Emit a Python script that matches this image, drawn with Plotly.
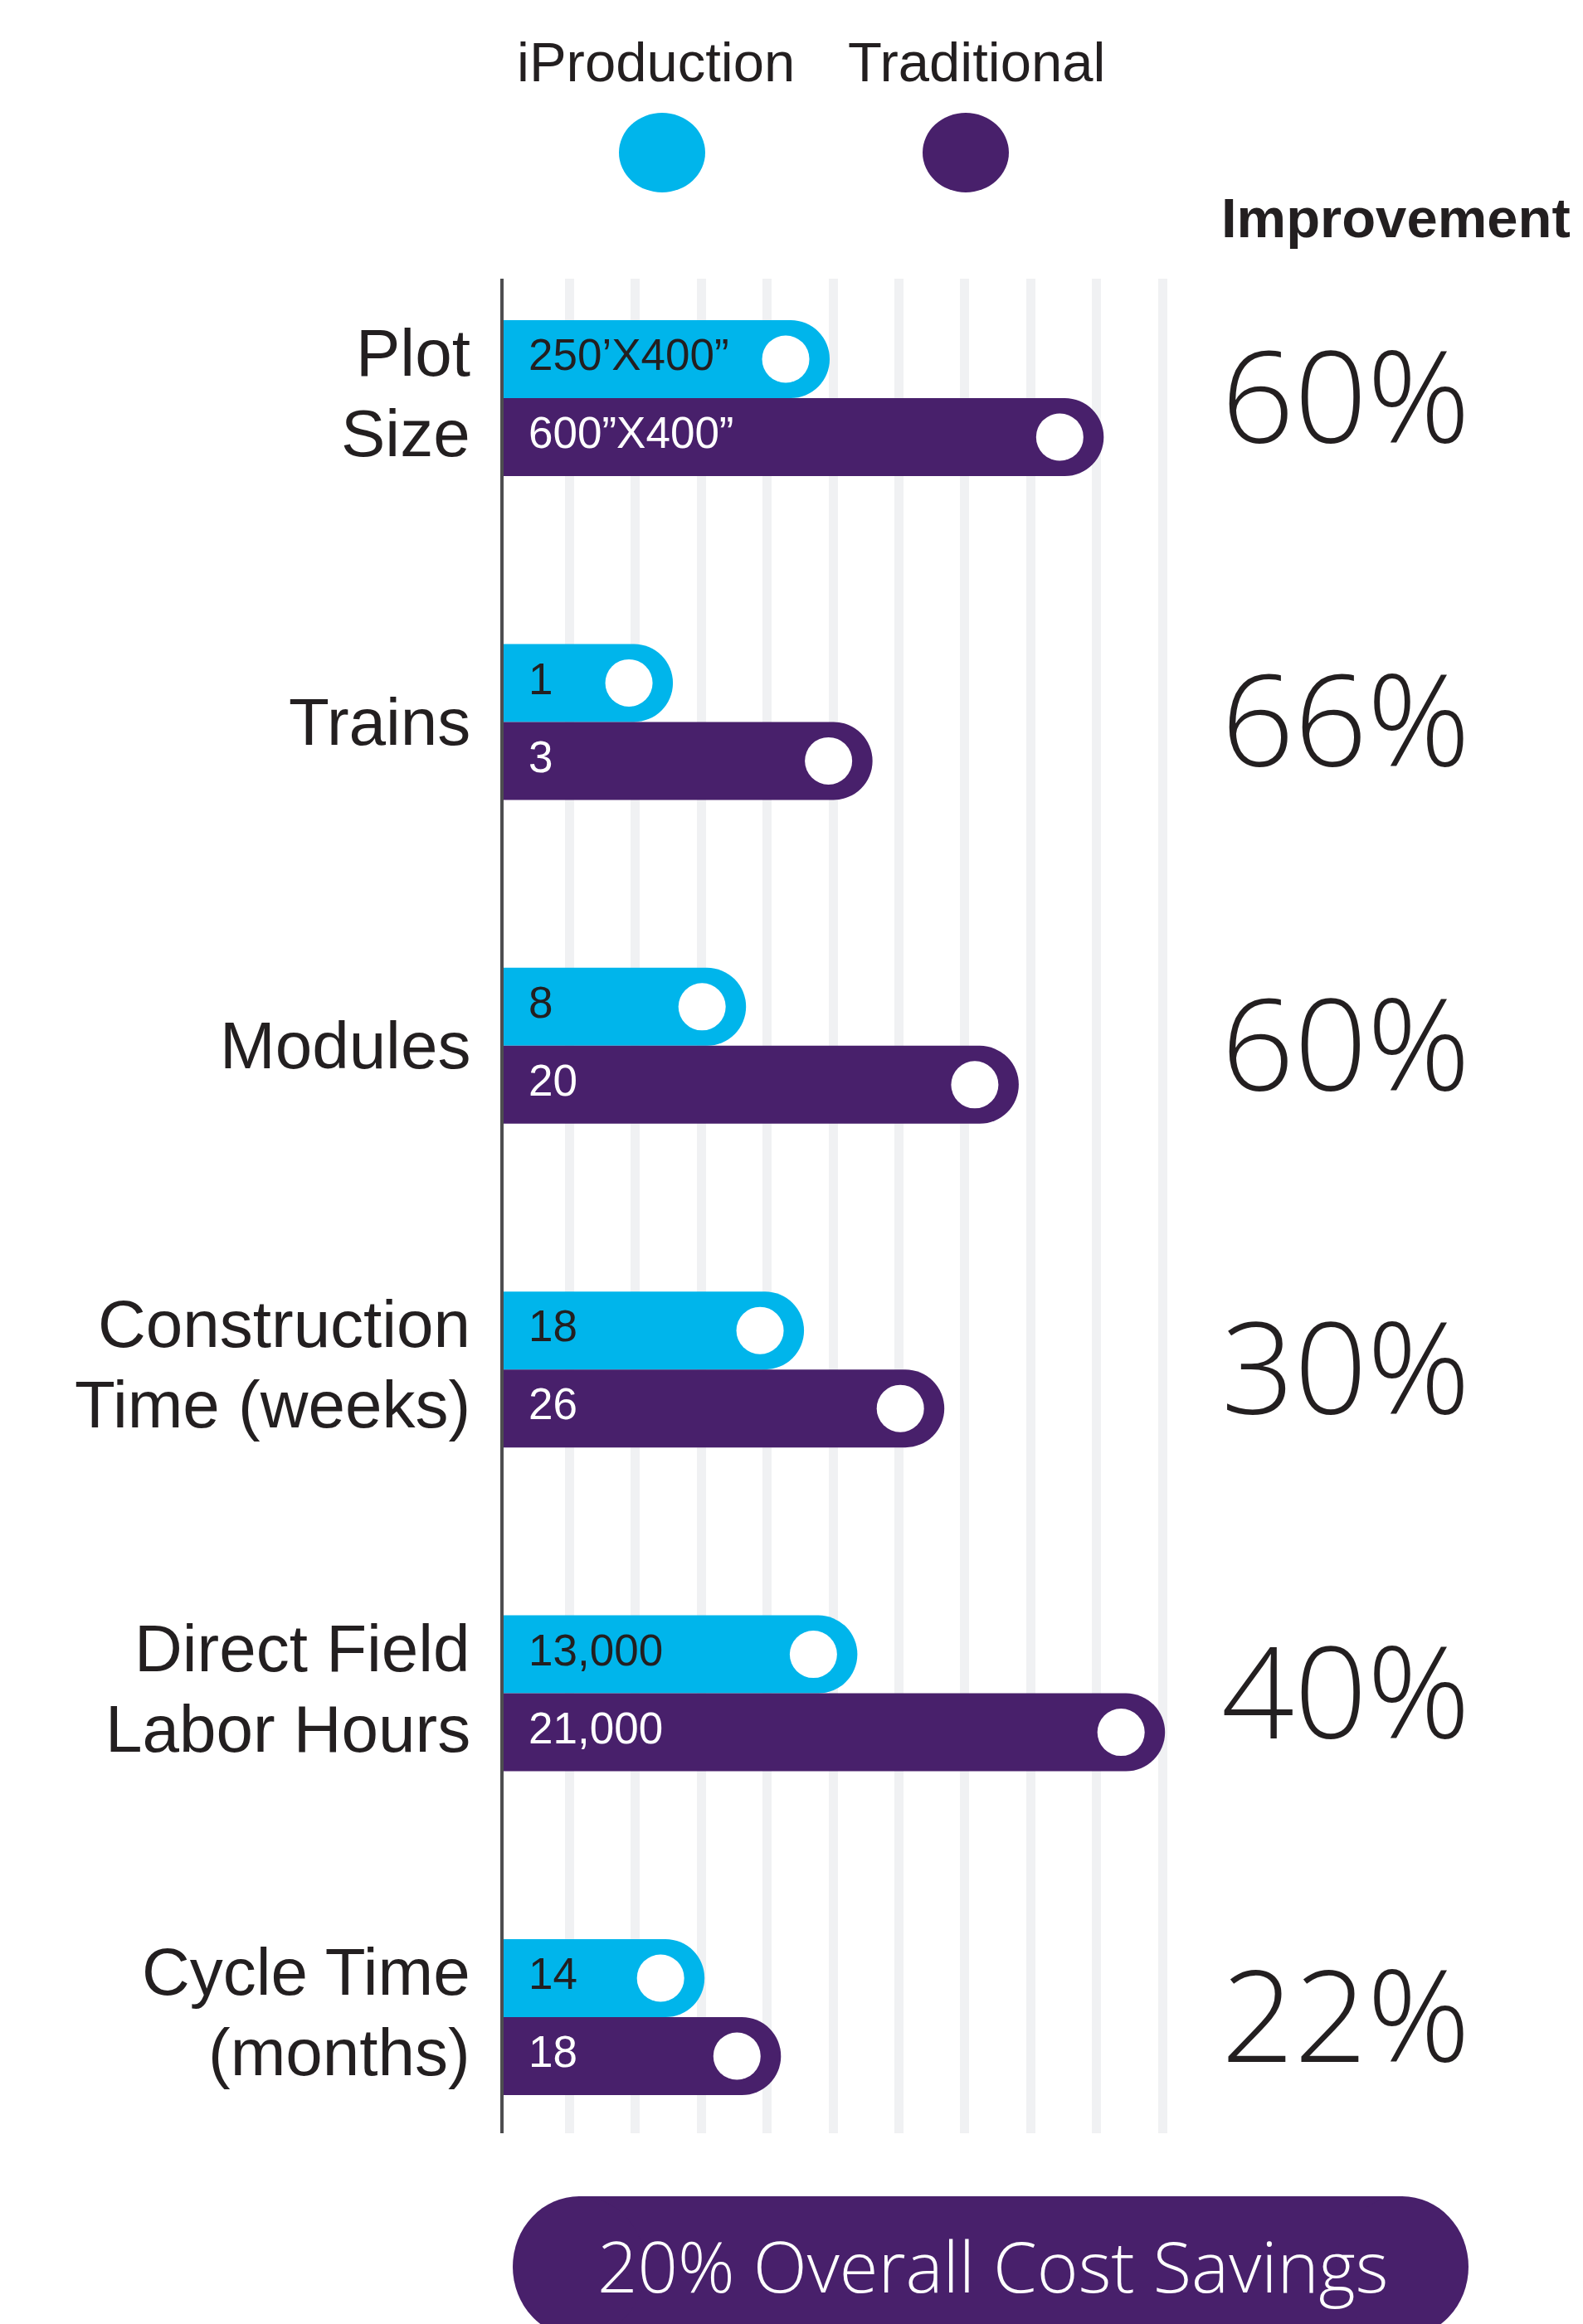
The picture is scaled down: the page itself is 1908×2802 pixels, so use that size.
import plotly.graph_objects as go

# ---------------- data ----------------
categories = ["Plot<br>Size", "Trains", "Modules", "Construction<br>Time (weeks)",
              "Direct Field<br>Labor Hours", "Cycle Time<br>(months)"]
iprod_labels = ["250\u2019X400\u201d", "1", "8", "18", "13,000", "14"]
trad_labels = ["600\u201dX400\u201d", "3", "20", "26", "21,000", "18"]
# bar lengths, in grid-line units
iprod_length = [4.95, 2.57, 3.68, 4.56, 5.37, 3.05]
trad_length = [9.11, 5.60, 7.82, 6.69, 10.04, 4.21]
improvement = ["60%", "66%", "60%", "30%", "40%", "22%"]
series_names = ["iProduction", "Traditional"]
banner_text = "20% Overall Cost Savings"
header_text = "Improvement"

# ---------------- style / layout ----------------
W, H = 1908, 2802
ML, MT, MR, MB = 607, 336, 0, 230
PW, PH = W - ML - MR, H - MT - MB
UX = 79.4          # px per grid unit
ROW0, ROWSTEP = 480, 390.4   # px of first row centre and row spacing
BAR_PX = 94
LINE_PX = 97
CYAN = "#00B5EB"
PURPLE = "#48206B"
DARK = "#231F20"
GRID = "#F0F1F3"
ARIAL = "Arial, Liberation Sans, sans-serif"
LIGHT = "Open Sans, Lato, sans-serif"

xr = [0, PW / UX]
yr = [(MT + PH - ROW0) / ROWSTEP, (MT - ROW0) / ROWSTEP]
bw = BAR_PX / ROWSTEP
rows = list(range(len(categories)))
y_ip = [r - bw / 2 for r in rows]
y_tr = [r + bw / 2 for r in rows]
dot_off = 53 / UX


def xp(px):
    return (px - ML) / PW


def yp(py):
    return (MT + PH - py) / PH


def row_py(r):
    return ROW0 + ROWSTEP * r


fig = go.Figure()
for lengths, ys, col, name in [(iprod_length, y_ip, CYAN, series_names[0]),
                               (trad_length, y_tr, PURPLE, series_names[1])]:
    fig.add_trace(go.Bar(x=lengths, y=ys, orientation="h", width=bw,
                         marker=dict(color=col, line=dict(width=0), cornerradius="50%"),
                         name=name, hoverinfo="skip"))
fig.add_trace(go.Scatter(x=[v - dot_off for v in iprod_length + trad_length], y=y_ip + y_tr,
                         mode="markers", marker=dict(color="white", size=57, line=dict(width=0)),
                         hoverinfo="skip"))
fig.add_trace(go.Scatter(x=[30 / UX] * len(rows), y=y_ip, mode="text", text=iprod_labels,
                         textposition="middle right",
                         textfont=dict(family=ARIAL, size=53, color=DARK), hoverinfo="skip"))
fig.add_trace(go.Scatter(x=[30 / UX] * len(rows), y=y_tr, mode="text", text=trad_labels,
                         textposition="middle right",
                         textfont=dict(family=ARIAL, size=53, color="white"), hoverinfo="skip"))

annotations = []
for r, cat, imp in zip(rows, categories, improvement):
    lines = cat.split("<br>")
    n = len(lines)
    for k, line in enumerate(lines):
        cy = row_py(r) + (k - (n - 1) / 2) * LINE_PX - (6 if n > 1 else 0)
        annotations.append(dict(x=xp(569), y=yp(cy), xref="paper", yref="paper", text=line,
                                showarrow=False, xanchor="right", yanchor="middle", align="right",
                                font=dict(family=ARIAL, size=80, color=DARK)))
    annotations.append(dict(x=xp(1622), y=yp(row_py(r)), xref="paper", yref="paper", text=imp,
                            showarrow=False, xanchor="center", yanchor="middle", yshift=6,
                            font=dict(family=LIGHT, size=154, color=DARK, weight=300)))

annotations.append(dict(x=xp(1682), y=yp(262), xref="paper", yref="paper", text="<b>" + header_text + "</b>",
                        showarrow=False, xanchor="center", yanchor="middle",
                        font=dict(family=ARIAL, size=67, color=DARK)))
for name, cx in zip(series_names, [790, 1177]):
    annotations.append(dict(x=xp(cx), y=yp(74), xref="paper", yref="paper", text=name,
                            showarrow=False, xanchor="center", yanchor="middle",
                            font=dict(family=ARIAL, size=67, color=DARK)))
annotations.append(dict(x=xp(1196), y=yp(2731), xref="paper", yref="paper", text=banner_text,
                        showarrow=False, xanchor="center", yanchor="middle",
                        font=dict(family=LIGHT, size=85, color="white", weight=300)))

shapes = []
for cx, col in zip([798, 1164], [CYAN, PURPLE]):
    shapes.append(dict(type="circle", xref="paper", yref="paper", x0=xp(cx - 52), x1=xp(cx + 52),
                       y0=yp(136), y1=yp(232), fillcolor=col, line=dict(width=0), layer="above"))
# banner pill
shapes.append(dict(type="rect", xref="paper", yref="paper", x0=xp(698), x1=xp(1690),
                   y0=yp(2648), y1=yp(2818), fillcolor=PURPLE, line=dict(width=0), layer="below"))
for x0 in [618, 1610]:
    shapes.append(dict(type="circle", xref="paper", yref="paper", x0=xp(x0), x1=xp(x0 + 160),
                       y0=yp(2648), y1=yp(2818), fillcolor=PURPLE, line=dict(width=0), layer="below"))

fig.update_layout(
    width=W, height=H, margin=dict(l=ML, r=MR, t=MT, b=MB, pad=0),
    paper_bgcolor="white", plot_bgcolor="white", showlegend=False,
    barmode="overlay",
    xaxis=dict(range=xr, tickmode="array", tickvals=list(range(1, 11)), showgrid=True,
               gridcolor=GRID, gridwidth=11, zeroline=False, showline=False,
               showticklabels=False, ticks="", fixedrange=True),
    yaxis=dict(range=yr, showgrid=False, zeroline=False, showline=True, linecolor="#4D4D4F",
               linewidth=4, showticklabels=False, ticks="", fixedrange=True),
    annotations=annotations, shapes=shapes,
)

fig.write_html("out.html", config={"displayModeBar": False},
               post_script="document.body.style.margin='0px';document.body.style.overflow='hidden';")
